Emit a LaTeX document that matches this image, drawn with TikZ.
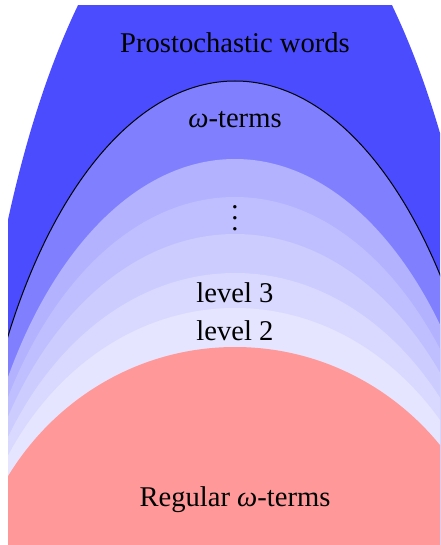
\documentclass[tikz,border=0pt]{standalone}
\usepackage{fontspec}
\setmainfont{Liberation Serif}
\begin{document}
\begin{tikzpicture}[x=0.5pt,y=-0.5pt,
  region/.style={draw=none},
  lbl/.style={anchor=base,inner sep=0pt,font=\fontsize{14.3}{17}\selectfont}]
\useasboundingbox (0,0) rectangle (440,545);
\begin{scope}
  \clip (8,6) rectangle (440,545);
  \coordinate (c) at (235,620);
  \fill[blue!70] (c) ellipse [x radius=133.5pt, y radius=380pt];
  \filldraw[fill=blue!50, draw=black, line width=0.5pt] (c) ellipse [x radius=133.5pt, y radius=269.5pt];
  \fill[blue!30] (c) ellipse [x radius=133.5pt, y radius=230.5pt];
  \fill[blue!25] (c) ellipse [x radius=133.5pt, y radius=211.5pt];
  \fill[blue!20] (c) ellipse [x radius=133.5pt, y radius=193pt];
  \fill[blue!15] (c) ellipse [x radius=133.5pt, y radius=173.5pt];
  \fill[blue!10] (c) ellipse [x radius=133.5pt, y radius=156pt];
  \fill[red!40] (c) ellipse [x radius=133.5pt, y radius=136.5pt];
\end{scope}
\node[lbl] (pw) at (235,53) {Prostochastic words};
\node[lbl] (wt) at (235,128) {\textit{ω}-terms};
\node[inner sep=0pt] (dots) at (235,218) {\vbox{\baselineskip=5.5pt\lineskiplimit=-10pt\hbox{\fontsize{14.3}{17}\selectfont .}\hbox{\fontsize{14.3}{17}\selectfont .}\hbox{\fontsize{14.3}{17}\selectfont .}}};
\node[lbl] (l3) at (235,302) {level 3};
\node[lbl] (l2) at (235,340) {level 2};
\node[lbl] (rw) at (235,506) {Regular \textit{ω}-terms};
\end{tikzpicture}
\end{document}
